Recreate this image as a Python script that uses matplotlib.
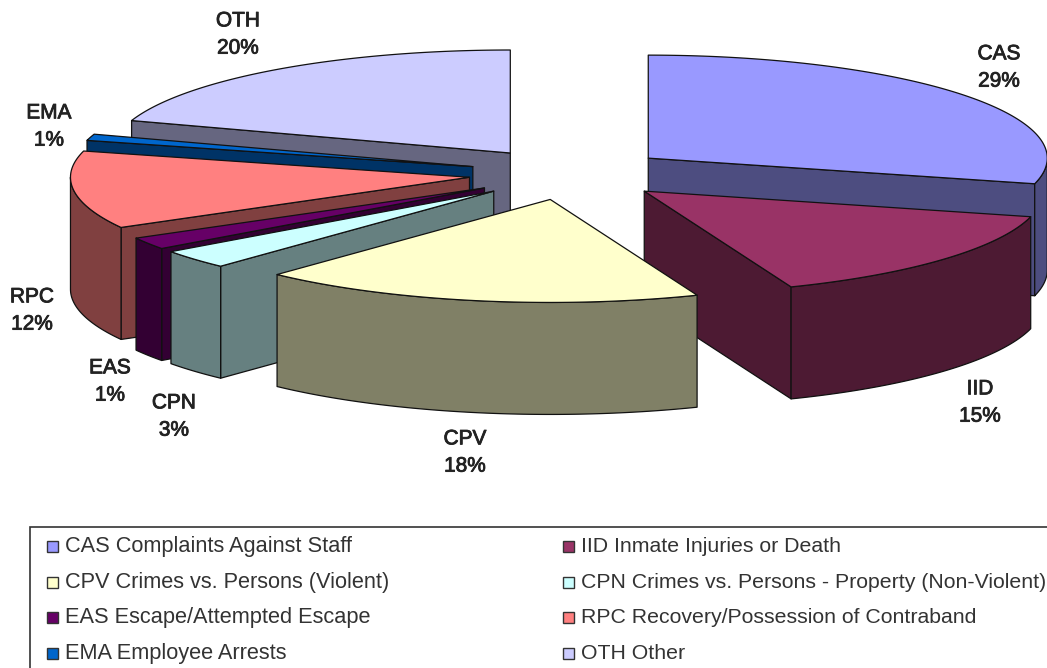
import numpy as np
import matplotlib
matplotlib.use("Agg")
import matplotlib.pyplot as plt
import matplotlib.patheffects as pe
from matplotlib.patches import Polygon, Rectangle

plt.rcParams['font.family'] = ['Liberation Sans', 'DejaVu Sans']

# Slices, clockwise from 12 o'clock
codes = ['CAS', 'IID', 'CPV', 'CPN', 'EAS', 'RPC', 'EMA', 'OTH']
values = [29, 15, 18, 3, 1.9, 12.2, 1.0, 19.9]
pct_labels = ['29%', '15%', '18%', '3%', '1%', '12%', '1%', '20%']
legend_names = ['Complaints Against Staff', 'Inmate Injuries or Death',
                'Crimes vs. Persons (Violent)', 'Crimes vs. Persons - Property (Non-Violent)',
                'Escape/Attempted Escape', 'Recovery/Possession of Contraband',
                'Employee Arrests', 'Other']

top_colors = ['#9999FF', '#993366', '#FFFFCC', '#CCFFFF', '#660066', '#FF8080', '#0066CC', '#CCCCFF']
side_colors = ['#4D4D80', '#4D1A33', '#808066', '#668080', '#330033', '#804040', '#003366', '#666680']

# Pie geometry in pixels
cx, cy = 569, 174
rx, ry = 399, 103
depth = 112
explode = 0.2514

# Label centres in pixels
label_x = [999, 980, 465, 174, 110, 32, 49, 238]
label_y = [67.5, 402.5, 452.5, 416.5, 381.5, 310.5, 126.5, 34.5]


def rim(ox, oy, a):
    return ox + rx * np.sin(a), oy - ry * np.cos(a)


fig = plt.figure(figsize=(10.47, 6.68), dpi=100)
ax = fig.add_axes([0, 0, 1, 1])
ax.set_xlim(0, 1047)
ax.set_ylim(668, 0)
ax.axis('off')

ends = np.radians(np.cumsum(values) / np.sum(values) * 360)
starts = np.concatenate([[0], ends[:-1]])
mids = (starts + ends) / 2

# Painter's order, the slices at the back first
zo = 1
for i in np.argsort(-np.cos(mids)):
    ox = cx + explode * rx * np.sin(mids[i])
    oy = cy - explode * ry * np.cos(mids[i])
    style = dict(edgecolor='#111111', linewidth=0.9, joinstyle='round')

    # radial walls, only the one that faces the viewer
    for a, visible in ((starts[i], starts[i] > np.pi), (ends[i], ends[i] < np.pi)):
        if visible:
            ex, ey = rim(ox, oy, a)
            ax.add_patch(Polygon([(ox, oy), (ex, ey), (ex, ey + depth), (ox, oy + depth)],
                                 facecolor=side_colors[i], zorder=zo, **style))

    # outer wall, only the front part
    a0 = max(starts[i], np.pi / 2)
    a1 = min(ends[i], 3 * np.pi / 2)
    if a1 > a0:
        t = np.linspace(a0, a1, 80)
        xs, ys = rim(ox, oy, t)
        ax.add_patch(Polygon(np.column_stack([np.r_[xs, xs[::-1]], np.r_[ys, ys[::-1] + depth]]),
                             facecolor=side_colors[i], zorder=zo, **style))

    # top face
    t = np.linspace(starts[i], ends[i], 120)
    xs, ys = rim(ox, oy, t)
    ax.add_patch(Polygon(np.column_stack([np.r_[ox, xs], np.r_[oy, ys]]),
                         facecolor=top_colors[i], zorder=zo, **style))
    zo += 1

for i in range(len(codes)):
    ax.text(label_x[i], label_y[i], codes[i] + '\n' + pct_labels[i], ha='center', va='center',
            fontsize=15, color='#222222', linespacing=1.55, zorder=50,
            path_effects=[pe.withStroke(linewidth=0.6, foreground='#222222')])

# Legend box runs off the right and bottom of the picture
ax.add_patch(Rectangle((30, 526.5), 1100, 200, facecolor='white', edgecolor='#333333',
                       linewidth=1.2, zorder=40))
for i in range(len(codes)):
    row, col = i // 2, i % 2
    x0 = 47 if col == 0 else 563
    y0 = 546.5 + row * 35.6
    ax.add_patch(Rectangle((x0, y0 - 5.5), 11, 11, facecolor=top_colors[i], edgecolor='#333333',
                           linewidth=1.0, zorder=41))
    ax.text(x0 + 18, y0, codes[i] + ' ' + legend_names[i], ha='left', va='center',
            fontsize=15.7 if col == 0 else 15.3, color='#333333', zorder=41)

fig.savefig('out.png', dpi=100, facecolor='white')
